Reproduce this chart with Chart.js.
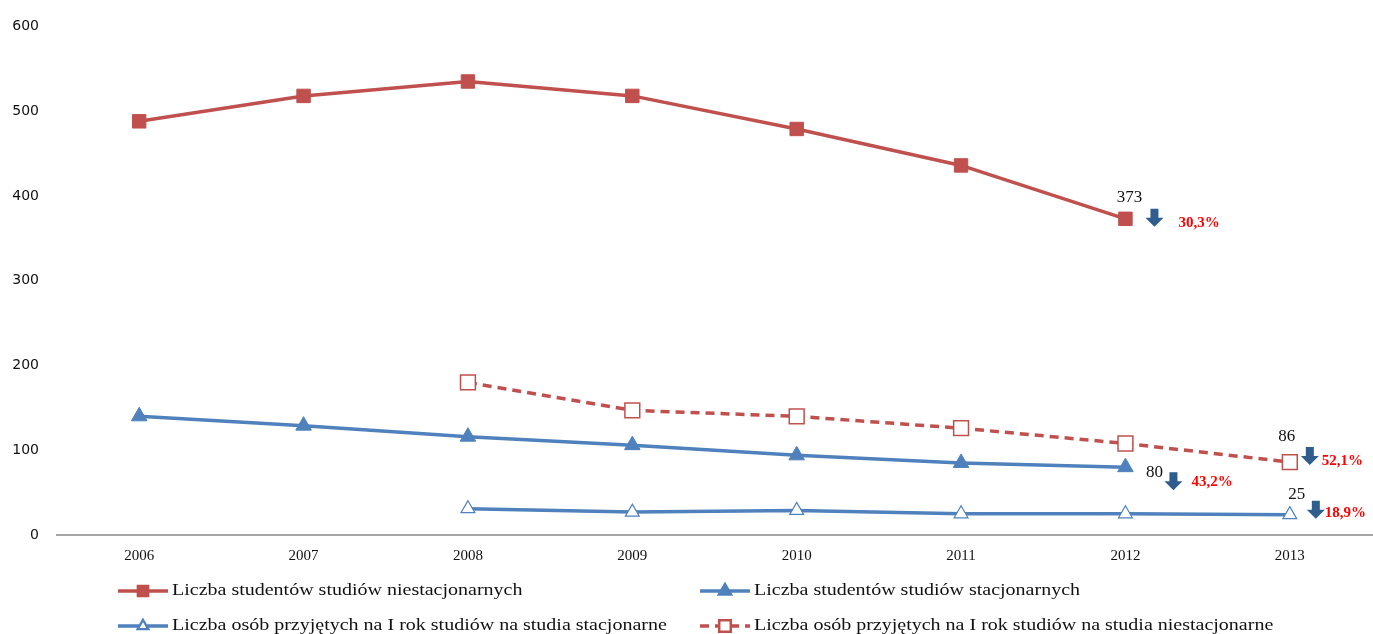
<!DOCTYPE html>
<html>
<head>
<meta charset="utf-8">
<script src="https://cdn.jsdelivr.net/npm/chart.js@4/dist/chart.umd.min.js"></script>
<style>
  html, body { margin: 0; padding: 0; background: #fff; overflow: hidden; }
  #wrap { width: 1384px; height: 634px; position: relative; }
</style>
</head>
<body>
<div id="wrap"><canvas id="chart"></canvas></div>
<script>
// =======================
// Data
// =======================
const years = ["2006", "2007", "2008", "2009", "2010", "2011", "2012", "2013"];

const studNiestacjonarne = [488, 518, 535, 518, 479, 436, 373, null];
const studStacjonarne    = [140, 129, 116, 106, 94, 85, 80, null];
const przyjStacjonarne   = [null, null, 31, 27, 29, 25, 25, 24];
const przyjNiestacjonarne = [null, null, 180, 147, 140, 126, 108, 86];

const seriesLabels = [
  "Liczba studentów studiów niestacjonarnych",
  "Liczba studentów studiów stacjonarnych",
  "Liczba osób przyjętych na I rok studiów na studia stacjonarne",
  "Liczba osób przyjętych na I rok studiów na studia niestacjonarne"
];

const yTicks = [0, 100, 200, 300, 400, 500, 600];

// value labels + drop percentages (dataset index, point index, shown value, drop)
const dropDataset = [0, 1, 3, 2];
const dropIndex   = [6, 6, 7, 7];
const dropValue   = ["373", "80", "86", "25"];
const dropPct     = ["30,3%", "43,2%", "52,1%", "18,9%"];

// =======================
// Styling
// =======================
const RED = "#C0504D";
const BLUE = "#4F81BD";
const ARROW = "#2F5D8E";

// offsets from the data point: [numDx, numDy, arrowDx, arrowDy, pctDx, pctDy]
const dropOffsets = [
  [4, -21, 29, -1, 53, 4],
  [29, 5, 48, 14, 66, 15],
  [-3, -26, 20, -6, 32, -1],
  [7, -20, 26, -5, 35, -2]
];

function drawDownArrow(ctx, cx, cy) {
  ctx.save();
  ctx.fillStyle = ARROW;
  ctx.beginPath();
  ctx.moveTo(cx - 4, cy - 9);
  ctx.lineTo(cx + 4, cy - 9);
  ctx.lineTo(cx + 4, cy);
  ctx.lineTo(cx + 9, cy);
  ctx.lineTo(cx, cy + 9);
  ctx.lineTo(cx - 9, cy);
  ctx.lineTo(cx - 4, cy);
  ctx.closePath();
  ctx.fill();
  ctx.restore();
}

const annotationPlugin = {
  id: "dropAnnotations",
  afterDatasetsDraw(chart) {
    const ctx = chart.ctx;
    dropDataset.forEach((dsi, k) => {
      const pt = chart.getDatasetMeta(dsi).data[dropIndex[k]];
      if (!pt) return;
      const o = dropOffsets[k];
      ctx.save();
      ctx.textBaseline = "middle";
      ctx.textAlign = "center";
      ctx.fillStyle = "#111";
      ctx.font = "17px 'Liberation Serif'";
      ctx.fillText(dropValue[k], pt.x + o[0], pt.y + o[1]);
      drawDownArrow(ctx, pt.x + o[2], pt.y + o[3]);
      ctx.textAlign = "left";
      ctx.fillStyle = "#FF0000";
      ctx.font = "bold 15px 'Liberation Serif'";
      ctx.fillText(dropPct[k], pt.x + o[4], pt.y + o[5]);
      ctx.restore();
    });
  }
};

// custom legend: two columns, two rows
const legendPos = [[118, 591], [700, 591], [118, 626], [700, 626]];

const legendPlugin = {
  id: "gridLegend",
  afterDraw(chart) {
    const ctx = chart.ctx;
    chart.data.datasets.forEach((ds, i) => {
      const [x, y] = legendPos[i];
      ctx.save();
      ctx.strokeStyle = ds.borderColor;
      ctx.lineWidth = 3.5;
      ctx.setLineDash(ds.borderDash || []);
      ctx.beginPath();
      ctx.moveTo(x, y);
      ctx.lineTo(x + 50, y);
      ctx.stroke();
      ctx.setLineDash([]);
      Chart.helpers.drawPoint(ctx, {
        pointStyle: ds.pointStyle,
        radius: ds.pointRadius - 3,
        borderWidth: ds.pointBorderWidth
      }, x + 25, y);
      ctx.fillStyle = ds.pointBackgroundColor;
      ctx.strokeStyle = ds.pointBorderColor;
      ctx.lineWidth = ds.pointBorderWidth;
      ctx.fill();
      ctx.stroke();
      // legend text in the original is stretched wide
      ctx.translate(x + 54, y);
      ctx.scale(1.25, 1);
      ctx.fillStyle = "#111";
      ctx.font = "16px 'Liberation Serif'";
      ctx.textBaseline = "middle";
      ctx.fillText(ds.label, 0, 0);
      ctx.restore();
    });
  }
};

// =======================
// Chart
// =======================
new Chart(document.getElementById("chart"), {
  type: "line",
  data: {
    labels: years,
    datasets: [
      {
        label: seriesLabels[0],
        data: studNiestacjonarne,
        borderColor: RED,
        borderWidth: 3.5,
        pointStyle: "rect",
        pointRadius: 9.5,
        pointBackgroundColor: RED,
        pointBorderColor: RED,
        pointBorderWidth: 1
      },
      {
        label: seriesLabels[1],
        data: studStacjonarne,
        borderColor: BLUE,
        borderWidth: 3.5,
        pointStyle: "triangle",
        pointRadius: 9,
        pointBackgroundColor: BLUE,
        pointBorderColor: BLUE,
        pointBorderWidth: 1
      },
      {
        label: seriesLabels[2],
        data: przyjStacjonarne,
        borderColor: BLUE,
        borderWidth: 3.5,
        pointStyle: "triangle",
        pointRadius: 8,
        pointBackgroundColor: "#fff",
        pointBorderColor: BLUE,
        pointBorderWidth: 1.2
      },
      {
        label: seriesLabels[3],
        data: przyjNiestacjonarne,
        borderColor: RED,
        borderWidth: 3.5,
        borderDash: [9, 6],
        pointStyle: "rect",
        pointRadius: 10.5,
        pointBackgroundColor: "#fff",
        pointBorderColor: RED,
        pointBorderWidth: 1.5
      }
    ]
  },
  options: {
    responsive: true,
    maintainAspectRatio: false,
    animation: false,
    spanGaps: false,
    layout: { padding: { top: 25, right: 0, bottom: 57, left: 0 } },
    plugins: {
      legend: { display: false },
      tooltip: { enabled: false },
      title: { display: false }
    },
    scales: {
      x: {
        offset: true,
        afterFit(axis) { axis.paddingLeft = 0; axis.paddingRight = 0; },
        grid: { display: false, drawTicks: false },
        border: { display: true, color: "#A6A6A6", width: 2 },
        ticks: {
          color: "#111",
          font: { family: "'Liberation Serif'", size: 15 },
          padding: 12
        }
      },
      y: {
        min: 0,
        max: 600,
        afterBuildTicks(axis) { axis.ticks = yTicks.map(v => ({ value: v })); },
        afterFit(axis) { axis.width = 57; },
        grid: { display: false, drawTicks: false },
        border: { display: false },
        ticks: {
          color: "#111",
          font: { family: "'DejaVu Sans'", size: 14 },
          padding: 18
        }
      }
    }
  },
  plugins: [annotationPlugin, legendPlugin]
});
</script>
</body>
</html>
